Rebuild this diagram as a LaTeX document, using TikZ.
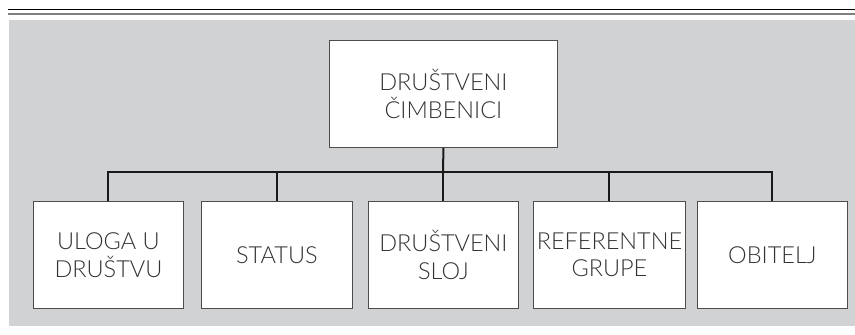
\documentclass[tikz,border=0pt]{standalone}
\usepackage{fontspec}
\setmainfont{Lato}[UprightFont=* Light]
\begin{document}
\begin{tikzpicture}[x=1pt,y=-1pt,
  box/.style={draw=black!70,line width=0.9pt,fill=white,text=black!80,align=center,
    font=\fontsize{23.5}{27.5}\selectfont,inner sep=0pt,anchor=north west},
  conn/.style={draw=black!90,line width=2pt}]
\useasboundingbox (0,0) rectangle (855,335);
\fill[fill={rgb,255:red,209;green,210;blue,212}] (9,20) rectangle (855,326);
\draw[black,line width=1pt] (8,9) -- (855,9);
\draw[black!50,line width=2pt] (8,14) -- (855,14);
\node[box,minimum width=228pt,minimum height=107pt] (top) at (329,40) {DRUŠTVENI\\ČIMBENICI};
\node[box,minimum width=150pt,minimum height=107pt] (b1) at (33,201) {ULOGA U\\DRUŠTVU};
\node[box,minimum width=151pt,minimum height=107pt] (b2) at (201,201) {STATUS};
\node[box,minimum width=150pt,minimum height=107pt] (b3) at (368,201) {DRUŠTVENI\\SLOJ};
\node[box,minimum width=152pt,minimum height=107pt] (b4) at (533,201) {REFERENTNE\\GRUPE};
\node[box,minimum width=150pt,minimum height=107pt] (b5) at (697,201) {OBITELJ};
\coordinate (bus) at (443,172);
\draw[conn] (top.south) -- (bus);
\draw[conn] (b1.north) |- (bus) -| (b5.north);
\draw[conn] (b2.north) -- (b2.north |- bus);
\draw[conn] (b3.north) -- (b3.north |- bus);
\draw[conn] (b4.north) -- (b4.north |- bus);
\end{tikzpicture}
\end{document}
